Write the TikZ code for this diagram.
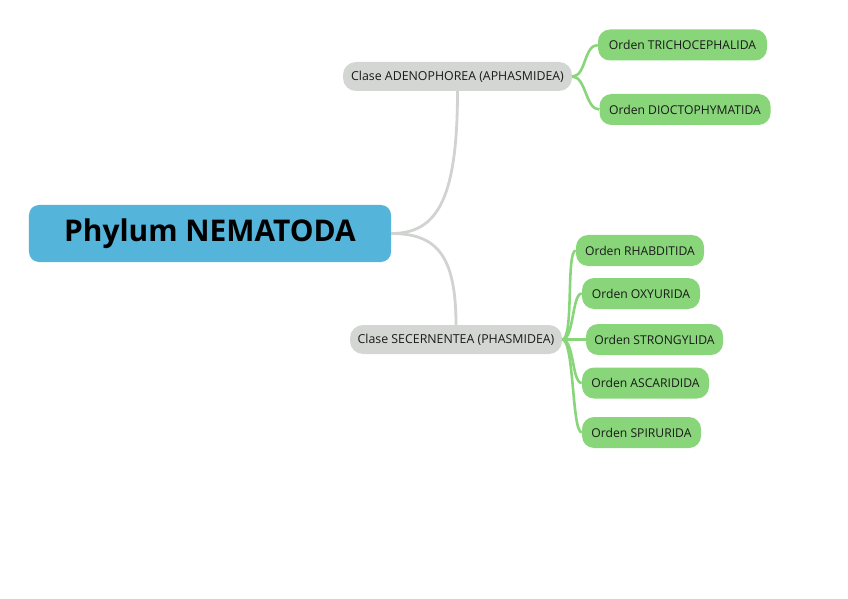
\documentclass[tikz,border=0pt]{standalone}
\usepackage{fontspec}
\setmainfont{Open Sans}
\usepackage{xcolor}
\definecolor{phylumblue}{HTML}{55B4DA}
\definecolor{clasegray}{HTML}{D3D6D3}
\definecolor{ordengreen}{HTML}{88D57A}
\definecolor{linkgray}{HTML}{D0D3D0}
\definecolor{linkgreen}{HTML}{88D57A}
\definecolor{textdark}{HTML}{1A1A1A}

\tikzset{
  phylum/.style={fill=phylumblue, rounded corners=10bp, minimum width=362bp,
    minimum height=57bp, inner sep=0pt, text=black,
    font=\fontsize{30}{34}\selectfont\bfseries},
  clase/.style={fill=clasegray, rounded corners=13bp, minimum height=29bp,
    inner sep=0pt, text=textdark, font=\fontsize{12.4}{14}\selectfont},
  orden/.style={fill=ordengreen, rounded corners=12bp, minimum height=31bp,
    inner sep=0pt, text=textdark, font=\fontsize{12.2}{14}\selectfont},
  linkc/.style={draw=linkgray, line width=2.8bp},
  linko/.style={draw=linkgreen, line width=2.6bp}
}

\begin{document}
\begin{tikzpicture}[x=1bp, y=-1bp]
  \useasboundingbox (0,0) rectangle (848,599);

  % --- raiz ---
  \node[phylum] (phylum) at (210,233.5) {Phylum NEMATODA};

  % --- clases ---
  \node[clase, minimum width=229bp] (adeno) at (457.5,76.5) {Clase ADENOPHOREA (APHASMIDEA)};
  \node[clase, minimum width=212bp] (secer) at (456,339.5) {Clase SECERNENTEA (PHASMIDEA)};

  \draw[linkc] (phylum.east) .. controls +(45,0) and +(0,110) .. (adeno.south);
  \draw[linkc] (phylum.east) .. controls +(45,0) and +(0,-70) .. (secer.north);

  % --- ordenes de Adenophorea ---
  \node[orden, minimum width=169bp] (trich) at (682.5,45) {Orden TRICHOCEPHALIDA};
  \node[orden, minimum width=171bp] (dioct) at (685,109.5) {Orden DIOCTOPHYMATIDA};
  \foreach \o in {trich,dioct}
    \draw[linko] (adeno.east) .. controls +(14,0) and +(-14,0) .. (\o.west);

  % --- ordenes de Secernentea ---
  \foreach \o/\t/\x/\y/\w in {rhab/RHABDITIDA/640/250.5/128,
                              oxyu/OXYURIDA/641/293.5/118,
                              stron/STRONGYLIDA/654.5/339.5/137,
                              asca/ASCARIDIDA/645.5/383/127,
                              spir/SPIRURIDA/641.5/432.5/119} {
    \node[orden, minimum width=\w bp] (\o) at (\x,\y) {Orden \t};
    \draw[linko] (secer.east) .. controls +(12,0) and +(-10,0) .. (\o.west);
  }
\end{tikzpicture}
\end{document}
